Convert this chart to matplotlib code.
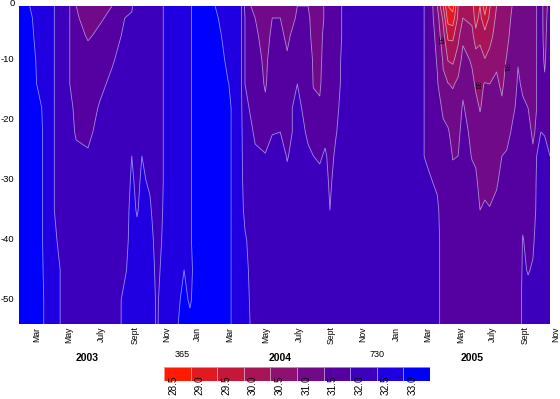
import numpy as np
import matplotlib
matplotlib.use("Agg")
import matplotlib.pyplot as plt

plt.rcParams['font.family'] = ['Liberation Sans', 'DejaVu Sans']

# days since 1 Jan 2003, one row of salinity for each
days = [27, 48, 63, 78, 93, 105, 123, 135, 157, 180, 202, 226, 239, 249, 258, 273, 286, 298,
        326, 337, 348, 367, 395, 419, 434, 442, 451, 470, 489, 502, 517, 530, 549, 569, 579,
        591, 601, 610, 621, 632, 666, 741, 790, 801, 811, 822, 831, 840, 850, 859, 876, 883,
        891, 900, 909, 922, 932, 941, 951, 962, 971, 981, 990, 997, 1005, 1012, 1022]
depths = [-1, -3, -6, -10, -14, -18, -22, -26, -30, -35, -40, -45, -50, -54]

salinity = [
    [33.3, 33.3, 33.3, 33.3, 33.3, 33.3, 33.3, 33.3, 33.3, 33.3, 33.3, 33.3, 33.3, 33.3],
    [33.0, 33.1, 33.2, 33.3, 33.3, 33.3, 33.3, 33.3, 33.3, 33.3, 33.3, 33.3, 33.3, 33.3],
    [32.8, 32.8, 32.8, 32.9, 32.95, 33.2, 33.3, 33.3, 33.3, 33.3, 33.3, 33.3, 33.3, 33.3],
    [32.8, 32.8, 32.8, 32.8, 32.8, 32.8, 32.8, 32.8, 32.8, 32.8, 32.8, 32.85, 32.9, 32.9],
    [32.52, 32.52, 32.52, 32.52, 32.52, 32.52, 32.52, 32.52, 32.52, 32.52, 32.6, 32.7, 32.7, 32.7],
    [32.3, 32.3, 32.3, 32.3, 32.3, 32.3, 32.3, 32.3, 32.3, 32.3, 32.4, 32.5, 32.5, 32.5],
    [32.0, 32.0, 32.0, 32.0, 32.0, 32.1, 32.15, 32.2, 32.25, 32.25, 32.25, 32.25, 32.25, 32.25],
    [31.5, 31.6, 31.7, 31.8, 31.85, 31.9, 31.95, 32.1, 32.25, 32.25, 32.25, 32.25, 32.25, 32.25],
    [31.2, 31.2, 31.45, 31.7, 31.8, 31.8, 31.9, 32.05, 32.25, 32.25, 32.25, 32.25, 32.25, 32.25],
    [31.3, 31.45, 31.6, 31.75, 31.9, 32.05, 32.15, 32.2, 32.25, 32.25, 32.25, 32.25, 32.25, 32.25],
    [31.5, 31.6, 31.75, 31.95, 32.1, 32.2, 32.25, 32.25, 32.25, 32.25, 32.25, 32.25, 32.25, 32.25],
    [31.75, 32.0, 32.1, 32.2, 32.25, 32.25, 32.25, 32.25, 32.3, 32.35, 32.4, 32.45, 32.6, 32.6],
    [31.98, 32.02, 32.15, 32.2, 32.25, 32.25, 32.3, 32.5, 32.55, 32.6, 32.6, 32.65, 32.7, 32.7],
    [32.1, 32.15, 32.2, 32.25, 32.25, 32.25, 32.3, 32.35, 32.42, 32.47, 32.6, 32.7, 32.7, 32.7],
    [32.2, 32.2, 32.25, 32.25, 32.25, 32.25, 32.35, 32.5, 32.55, 32.6, 32.65, 32.7, 32.7, 32.7],
    [32.25, 32.25, 32.25, 32.25, 32.25, 32.25, 32.25, 32.3, 32.45, 32.55, 32.65, 32.7, 32.7, 32.7],
    [32.25, 32.25, 32.25, 32.25, 32.25, 32.25, 32.25, 32.25, 32.25, 32.3, 32.35, 32.4, 32.45, 32.45],
    [32.5, 32.5, 32.5, 32.5, 32.5, 32.5, 32.5, 32.5, 32.5, 32.52, 32.55, 32.6, 32.65, 32.7],
    [32.8, 32.8, 32.8, 32.8, 32.8, 32.8, 32.8, 32.8, 32.8, 32.8, 32.8, 32.85, 32.95, 33.0],
    [32.8, 32.8, 32.8, 32.8, 32.8, 32.8, 32.8, 32.8, 32.8, 32.8, 32.9, 33.0, 33.1, 33.2],
    [32.95, 32.95, 32.95, 32.95, 32.95, 32.95, 32.95, 32.95, 32.95, 32.95, 32.95, 32.9, 32.95, 33.1],
    [33.3, 33.3, 33.3, 33.3, 33.3, 33.3, 33.3, 33.3, 33.3, 33.3, 33.3, 33.3, 33.3, 33.3],
    [33.0, 33.05, 33.15, 33.3, 33.3, 33.3, 33.3, 33.3, 33.3, 33.3, 33.3, 33.3, 33.3, 33.3],
    [32.8, 32.85, 32.85, 32.9, 33.02, 33.1, 33.1, 33.1, 33.1, 33.1, 33.1, 33.1, 33.1, 33.1],
    [32.75, 32.8, 32.8, 32.8, 32.85, 32.85, 32.85, 32.85, 32.85, 32.85, 32.85, 32.85, 32.85, 32.85],
    [32.7, 32.7, 32.7, 32.7, 32.7, 32.7, 32.7, 32.7, 32.7, 32.7, 32.75, 32.8, 32.8, 32.8],
    [31.9, 32.0, 32.0, 32.0, 32.0, 32.1, 32.2, 32.25, 32.3, 32.4, 32.55, 32.6, 32.65, 32.7],
    [31.2, 31.5, 31.6, 31.7, 31.8, 31.85, 31.95, 32.05, 32.15, 32.2, 32.25, 32.3, 32.3, 32.3],
    [31.2, 31.25, 31.3, 31.4, 31.45, 31.6, 31.85, 32.02, 32.2, 32.25, 32.25, 32.25, 32.25, 32.25],
    [31.35, 31.5, 31.6, 31.7, 31.75, 31.8, 31.98, 32.15, 32.25, 32.25, 32.25, 32.25, 32.25, 32.25],
    [31.3, 31.5, 31.6, 31.7, 31.8, 31.95, 32.0, 32.2, 32.25, 32.25, 32.25, 32.25, 32.25, 32.25],
    [31.2, 31.3, 31.42, 31.55, 31.75, 31.9, 31.85, 31.97, 32.1, 32.2, 32.25, 32.25, 32.25, 32.25],
    [31.5, 31.55, 31.7, 31.85, 32.0, 32.1, 32.15, 32.2, 32.25, 32.25, 32.25, 32.25, 32.25, 32.25],
    [31.5, 31.6, 31.65, 31.75, 31.8, 31.85, 31.95, 32.05, 32.2, 32.25, 32.25, 32.25, 32.25, 32.25],
    [31.3, 31.3, 31.35, 31.45, 31.48, 31.6, 31.85, 32.0, 32.15, 32.25, 32.25, 32.25, 32.25, 32.25],
    [31.35, 31.35, 31.4, 31.42, 31.45, 31.55, 31.8, 31.95, 32.1, 32.25, 32.25, 32.25, 32.25, 32.25],
    [31.55, 31.55, 31.6, 31.65, 31.7, 31.75, 31.9, 32.05, 32.1, 32.2, 32.25, 32.25, 32.25, 32.25],
    [31.7, 31.7, 31.75, 31.8, 31.8, 31.85, 31.85, 31.9, 31.95, 32.0, 32.25, 32.25, 32.25, 32.25],
    [31.85, 31.85, 31.85, 31.9, 31.9, 31.95, 31.98, 32.05, 32.1, 32.2, 32.25, 32.25, 32.25, 32.25],
    [32.0, 32.0, 32.0, 32.02, 32.03, 32.05, 32.1, 32.15, 32.25, 32.25, 32.25, 32.25, 32.25, 32.25],
    [32.25, 32.25, 32.25, 32.25, 32.25, 32.25, 32.25, 32.25, 32.25, 32.25, 32.25, 32.25, 32.25, 32.25],
    [32.25, 32.25, 32.25, 32.25, 32.25, 32.25, 32.25, 32.25, 32.25, 32.25, 32.25, 32.25, 32.25, 32.25],
    [31.98, 31.98, 31.98, 31.98, 31.98, 31.98, 31.98, 31.98, 32.05, 32.15, 32.2, 32.2, 32.2, 32.25],
    [31.6, 31.6, 31.7, 31.75, 31.8, 31.85, 31.9, 31.95, 32.0, 32.1, 32.15, 32.2, 32.2, 32.2],
    [31.0, 31.2, 31.3, 31.45, 31.55, 31.7, 31.8, 31.85, 31.95, 32.05, 32.1, 32.1, 32.1, 32.1],
    [30.0, 30.4, 30.7, 30.95, 31.08, 31.42, 31.6, 31.75, 31.85, 31.85, 31.85, 31.85, 31.85, 31.85],
    [29.0, 29.3, 29.9, 30.48, 31.02, 31.3, 31.55, 31.7, 31.8, 31.8, 31.8, 31.8, 31.8, 31.8],
    [28.8, 29.2, 29.9, 30.4, 30.95, 31.2, 31.35, 31.48, 31.6, 31.7, 31.8, 31.8, 31.8, 31.8],
    [30.0, 30.1, 30.35, 30.75, 31.1, 31.3, 31.4, 31.5, 31.55, 31.7, 31.8, 31.8, 31.8, 31.8],
    [30.35, 30.5, 30.9, 31.15, 31.4, 31.55, 31.65, 31.7, 31.75, 31.8, 31.8, 31.8, 31.8, 31.8],
    [30.2, 30.35, 30.7, 30.95, 31.1, 31.25, 31.4, 31.48, 31.6, 31.7, 31.8, 31.8, 31.8, 31.8],
    [29.6, 29.8, 30.15, 30.8, 30.95, 31.1, 31.3, 31.45, 31.55, 31.65, 31.75, 31.8, 31.8, 31.8],
    [30.0, 30.15, 30.35, 30.75, 30.9, 30.98, 31.1, 31.3, 31.4, 31.5, 31.65, 31.8, 31.8, 31.8],
    [29.2, 29.6, 30.2, 30.52, 31.03, 31.1, 31.2, 31.3, 31.4, 31.55, 31.7, 31.8, 31.8, 31.8],
    [29.95, 30.1, 30.3, 30.7, 31.0, 31.1, 31.2, 31.25, 31.35, 31.52, 31.7, 31.8, 31.8, 31.8],
    [30.5, 30.6, 30.75, 30.95, 31.05, 31.15, 31.25, 31.4, 31.45, 31.6, 31.7, 31.8, 31.8, 31.8],
    [30.7, 30.75, 30.85, 30.9, 30.95, 31.05, 31.2, 31.5, 31.6, 31.7, 31.75, 31.8, 31.8, 31.8],
    [30.8, 30.85, 30.92, 31.02, 31.1, 31.2, 31.35, 31.55, 31.65, 31.7, 31.75, 31.8, 31.8, 31.8],
    [31.0, 31.05, 31.1, 31.15, 31.25, 31.4, 31.55, 31.65, 31.75, 31.75, 31.75, 31.75, 31.75, 31.75],
    [31.15, 31.15, 31.25, 31.48, 31.55, 31.6, 31.65, 31.7, 31.75, 31.75, 31.75, 31.75, 31.75, 31.75],
    [31.1, 31.1, 31.2, 31.3, 31.45, 31.55, 31.65, 31.75, 31.85, 31.9, 32.02, 32.05, 32.1, 32.1],
    [31.2, 31.2, 31.25, 31.35, 31.45, 31.5, 31.6, 31.7, 31.75, 31.8, 31.9, 31.98, 32.1, 32.15],
    [31.3, 31.3, 31.35, 31.4, 31.42, 31.45, 31.45, 31.55, 31.7, 31.85, 31.95, 32.03, 32.2, 32.2],
    [31.5, 31.5, 31.5, 31.5, 31.5, 31.5, 31.55, 32.0, 32.05, 32.05, 32.1, 32.15, 32.2, 32.25],
    [31.6, 31.6, 31.6, 31.65, 31.7, 31.8, 32.0, 32.1, 32.2, 32.25, 32.25, 32.25, 32.25, 32.25],
    [31.4, 31.4, 31.42, 31.45, 31.55, 31.85, 31.98, 32.1, 32.2, 32.25, 32.25, 32.25, 32.25, 32.25],
    [31.6, 31.65, 31.7, 31.75, 31.8, 31.85, 31.9, 32.0, 32.1, 32.2, 32.25, 32.3, 32.3, 32.3],
]

levels = [28.5, 29.0, 29.5, 30.0, 30.5, 31.0, 31.5, 32.0, 32.5, 33.0, 33.5]
band_colors = ['#ff1a00', '#e01a20', '#c5173a', '#a81458', '#8e1070',
               '#700a88', '#5500a0', '#3c00bd', '#2000e0', '#0000ff']
legend_labels = ['28.5', '29.0', '29.5', '30.0', '30.5', '31.0', '31.5', '32.0', '32.5', '33.0']

month_names = ['Mar', 'May', 'July', 'Sept', 'Nov', 'Jan', 'Mar', 'May', 'July', 'Sept', 'Nov',
               'Jan', 'Mar', 'May', 'July', 'Sept', 'Nov']
month_days = [62, 122, 183, 245, 305, 361, 423, 489, 552, 612, 672, 735, 794, 855, 915, 975, 1032]
years = ['2003', '2004', '2005']
year_days = [155, 516, 876]
day_marks = [365, 730]
day_mark_pos = [334, 698]
label_spots = [(815, -6.7), (883, -14.2), (939, -11.3)]
depth_ticks = [0, -10, -20, -30, -40, -50]

W, H = 560.0, 399.0
fig = plt.figure(figsize=(5.6, 3.99), dpi=100)
ax = fig.add_axes([18.5/W, 1-324/H, (550-18.5)/W, (324-6)/H])

Z = np.array(salinity).T
ax.contourf(days, depths, Z, levels=levels, colors=band_colors)
ax.contour(days, depths, Z, levels=levels[1:-1], colors='white', linewidths=0.6, alpha=0.55)
for d, z in label_spots:
    ax.text(d, z, '31', rotation=270, ha='center', va='center', fontsize=6, color='black')

ax.set_xlim(27, 1022)
ax.set_ylim(-54, -1)
ax.set_xticks([])
ax.set_yticks([])
for s in ax.spines.values():
    s.set_visible(False)

# y labels by hand, the 0 would be cut by the top edge so it sits a bit lower
for d in depth_ticks:
    fig.text(14.5/W, 1-max(-d*6, 4)/H, str(d), ha='right', va='center', fontsize=6.8)

trans = ax.get_xaxis_transform()
for name, d in zip(month_names, month_days):
    ax.text(d, -0.008, name, transform=trans, rotation=90, ha='center', va='top',
            fontsize=6.2, clip_on=False)
for name, d in zip(years, year_days):
    ax.text(d, -0.107, name, transform=trans, ha='center', va='center',
            fontsize=7.5, fontweight='bold', clip_on=False)
for m, d in zip(day_marks, day_mark_pos):
    ax.text(d, -0.097, str(m), transform=trans, ha='center', va='center',
            fontsize=6.5, clip_on=False)

# colour key
lg = fig.add_axes([164/W, 1-381/H, (430-164)/W, 14/H])
lg.pcolormesh(np.arange(11), [0, 1], [levels[:-1]], cmap=matplotlib.colors.ListedColormap(band_colors),
              norm=matplotlib.colors.BoundaryNorm(levels, 10), edgecolors='#ffffff80', linewidth=0.5)
lg.set_xlim(0, 10)
lg.set_ylim(0, 1)
lg.axis('off')
for i, lab in enumerate(legend_labels):
    lg.text(i+0.35, 0.42, lab, rotation=90, ha='center', va='top', fontsize=7.2, clip_on=False)

fig.savefig('out.png', dpi=100)
